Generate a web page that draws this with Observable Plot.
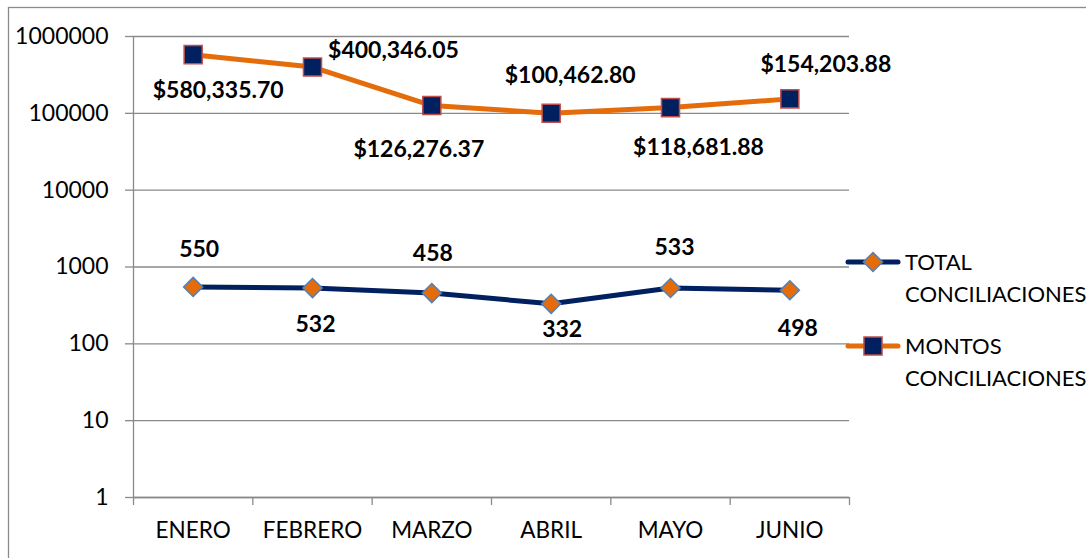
<!DOCTYPE html>
<html>
<head>
<meta charset="utf-8">
<script src="https://cdn.jsdelivr.net/npm/d3@7"></script>
<script src="https://cdn.jsdelivr.net/npm/@observablehq/plot@0.6"></script>
<style>
  html, body { margin: 0; padding: 0; background: white; }
  #chart svg { display: block; }
</style>
</head>
<body>
<div id="chart"></div>
<script>
// ---- data ----
const months = ["ENERO", "FEBRERO", "MARZO", "ABRIL", "MAYO", "JUNIO"];
const totalConciliaciones = [550, 532, 458, 332, 533, 498];
const montosConciliaciones = [580335.70, 400346.05, 126276.37, 100462.80, 118681.88, 154203.88];
const yTicks = [1, 10, 100, 1000, 10000, 100000, 1000000];
const seriesNames = ["TOTAL CONCILIACIONES", "MONTOS CONCILIACIONES"];

// ---- layout (label nudges, in px) ----
const totalLabelNudge = [[6, -37], [3, 37], [1, -39], [11, 26], [4, -40], [8, 38]];
const montosLabelNudge = [[25, 36], [81, -16], [-13, 44], [19, -38], [28, 40], [36, -34]];

const NAVY = "#002060";
const ORANGE = "#E46C0A";
const GRID = "#8a8a8a";
const FONT = "Lato, 'Open Sans', sans-serif";

const totalData = months.map((m, i) => ({month: m, x: i + 0.5, y: totalConciliaciones[i]}));
const montosData = months.map((m, i) => ({month: m, x: i + 0.5, y: montosConciliaciones[i]}));

const money = v => "$" + d3.format(",.2f")(v);

const labelMarks = [];
totalData.forEach((d, i) => {
  labelMarks.push(Plot.text([d], {
    x: "x", y: "y", text: d => String(d.y),
    dx: totalLabelNudge[i][0], dy: totalLabelNudge[i][1],
    fontWeight: "bold", fontSize: 23, fill: "black"
  }));
});
montosData.forEach((d, i) => {
  labelMarks.push(Plot.text([d], {
    x: "x", y: "y", text: d => money(d.y),
    dx: montosLabelNudge[i][0], dy: montosLabelNudge[i][1],
    fontWeight: "bold", fontSize: 23, fill: "black"
  }));
});

const chart = Plot.plot({
  width: 1086,
  height: 558,
  marginLeft: 133,
  marginRight: 237,
  marginTop: 36,
  marginBottom: 61,
  style: {fontFamily: FONT, background: "white", color: "black"},
  x: {type: "linear", domain: [0, 6]},
  y: {type: "log", domain: [1, 1000000]},
  marks: [
    Plot.gridY(yTicks, {stroke: GRID, strokeOpacity: 1, strokeWidth: 1.3}),
    Plot.axisY(yTicks, {
      tickSize: 8, tickPadding: 17, stroke: GRID, strokeOpacity: 1, strokeWidth: 1.3,
      tickFormat: d => String(d), fontSize: 23, fill: "black", label: null
    }),
    Plot.ruleX([0], {y1: 1, y2: 1000000, stroke: GRID, strokeWidth: 1.3}),
    Plot.ruleY([1], {x1: 0, x2: 6, stroke: GRID, strokeWidth: 1.3}),
    Plot.axisX(d3.range(0, 7), {
      tickSize: 8, stroke: GRID, strokeOpacity: 1, strokeWidth: 1.3, tickFormat: () => "", label: null
    }),
    Plot.axisX(months.map((m, i) => i + 0.5), {
      tickSize: 0, tickPadding: 25, tickFormat: v => months[Math.floor(v)],
      fontSize: 22.5, fill: "black", label: null
    }),
    Plot.line(totalData, {x: "x", y: "y", stroke: NAVY, strokeWidth: 5, strokeLinecap: "round", strokeLinejoin: "round"}),
    Plot.line(montosData, {x: "x", y: "y", stroke: ORANGE, strokeWidth: 5, strokeLinecap: "round", strokeLinejoin: "round"}),
    Plot.dot(totalData, {x: "x", y: "y", symbol: "diamond2", r: 8.6, fill: ORANGE, stroke: "#4F81BD", strokeWidth: 1.5}),
    Plot.dot(montosData, {x: "x", y: "y", symbol: "square", r: 10.2, fill: NAVY, stroke: "#C0504D", strokeWidth: 1.5}),
    ...labelMarks
  ]
});

document.getElementById("chart").appendChild(chart);

// outer chart border
const svg = d3.select(chart);
svg.insert("rect", ":first-child")
  .attr("x", 8.5).attr("y", 7.5).attr("width", 1300).attr("height", 800)
  .attr("fill", "none").attr("stroke", "#8a8a8a").attr("stroke-width", 1.3);

// legend (to the right of the plot)
const legend = svg.append("g")
  .attr("font-family", FONT).attr("font-size", 22).attr("fill", "black")
  .attr("text-anchor", "start");
const legendItems = [
  {name: seriesNames[0], line: NAVY, sym: d3.symbolDiamond2, r: 8.6, fill: ORANGE, stroke: "#4F81BD", y: 262},
  {name: seriesNames[1], line: ORANGE, sym: d3.symbolSquare, r: 10.2, fill: NAVY, stroke: "#C0504D", y: 346}
];
legendItems.forEach(it => {
  legend.append("line").attr("x1", 848).attr("x2", 898).attr("y1", it.y).attr("y2", it.y)
    .attr("stroke", it.line).attr("stroke-width", 5).attr("stroke-linecap", "round");
  legend.append("path").attr("transform", `translate(873,${it.y})`)
    .attr("d", d3.symbol(it.sym, Math.PI * it.r * it.r)())
    .attr("fill", it.fill).attr("stroke", it.stroke).attr("stroke-width", 1.5);
  const words = it.name.split(" ");
  words.forEach((w, k) => {
    legend.append("text").attr("x", 905).attr("y", it.y + k * 32).attr("dy", "0.36em")
      .attr("text-anchor", "start").text(w);
  });
});
</script>
</body>
</html>
